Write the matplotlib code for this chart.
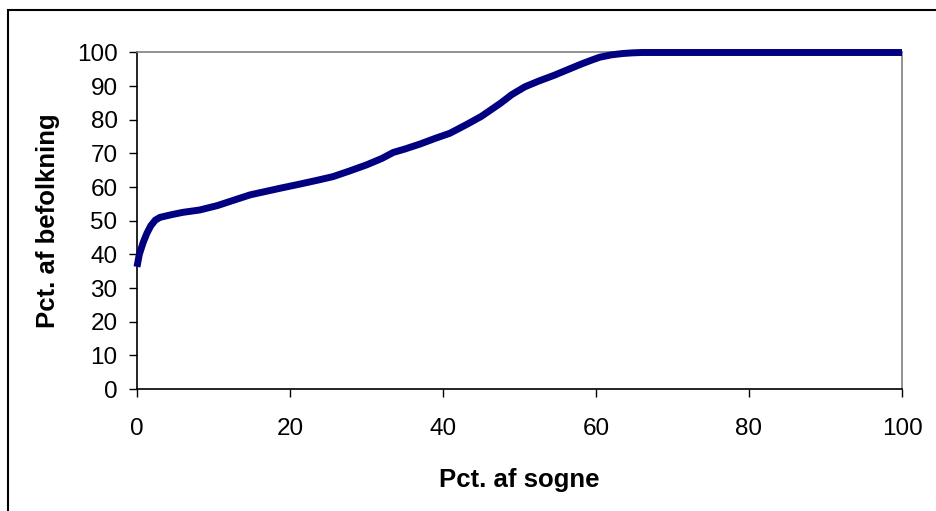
import matplotlib.pyplot as plt
from matplotlib.patches import Rectangle

plt.rcParams["font.family"] = ["Liberation Sans", "DejaVu Sans"]

# Pct. af sogne (x) vs Pct. af befolkning (y)
pct_sogne = [0.0, 0.3, 0.8, 1.3, 1.8, 2.4, 3.0, 4.5, 6.0, 8.2, 10.5, 12.5,
             14.8, 17.0, 19.0, 21.3, 23.5, 25.6, 27.8, 30.0, 32.0, 33.5,
             35.0, 37.0, 39.0, 40.9, 43.0, 45.0, 47.5, 49.0, 50.7, 52.5,
             54.5, 56.2, 58.0, 59.5, 60.5, 62.0, 63.5, 64.8, 66.0, 70.0,
             80.0, 90.0, 100.0]
pct_befolkning = [36.3, 40.0, 43.5, 46.3, 48.5, 50.2, 51.0, 51.8, 52.5, 53.2,
                  54.5, 56.0, 57.7, 58.8, 59.8, 60.9, 62.0, 63.1, 64.8, 66.6,
                  68.5, 70.3, 71.3, 72.8, 74.5, 76.0, 78.5, 81.0, 84.9, 87.5,
                  89.8, 91.5, 93.2, 94.8, 96.5, 97.8, 98.6, 99.3, 99.7, 99.9,
                  100.0, 100.0, 100.0, 100.0, 100.0]

fig = plt.figure(figsize=(9.37, 5.11), dpi=100)
ax = fig.add_axes([137 / 937, 1 - 389 / 511, 765 / 937, (389 - 52.5) / 511])

ax.plot(pct_sogne, pct_befolkning, color="#000080", linewidth=5,
        solid_capstyle="butt", clip_on=False, zorder=3)

ax.set_xlim(0, 100)
ax.set_ylim(0, 100)
ax.set_xticks(range(0, 101, 20))
ax.set_yticks(range(0, 101, 10))

ax.spines["left"].set_color("black")
ax.spines["bottom"].set_color("black")
ax.spines["top"].set_color("#808080")
ax.spines["right"].set_color("#808080")
for s in ax.spines.values():
    s.set_linewidth(1.2)

ax.tick_params(axis="both", direction="out", length=6, width=1.0,
               labelsize=17.5, colors="black")
ax.tick_params(axis="y", pad=8)
ax.tick_params(axis="x", pad=15)

ax.set_xlabel("Pct. af sogne", fontsize=18.5, fontweight="bold", labelpad=20)
ax.set_ylabel("Pct. af befolkning", fontsize=18.5, fontweight="bold", labelpad=12)

# outer chart border (cut off at right and bottom in the reference)
fig.patches.append(Rectangle((8 / 937, -0.1), 1.0, 1 - 10 / 511 + 0.1,
                             transform=fig.transFigure, fill=False,
                             edgecolor="black", linewidth=1.5))

fig.savefig("out.png", dpi=100)
